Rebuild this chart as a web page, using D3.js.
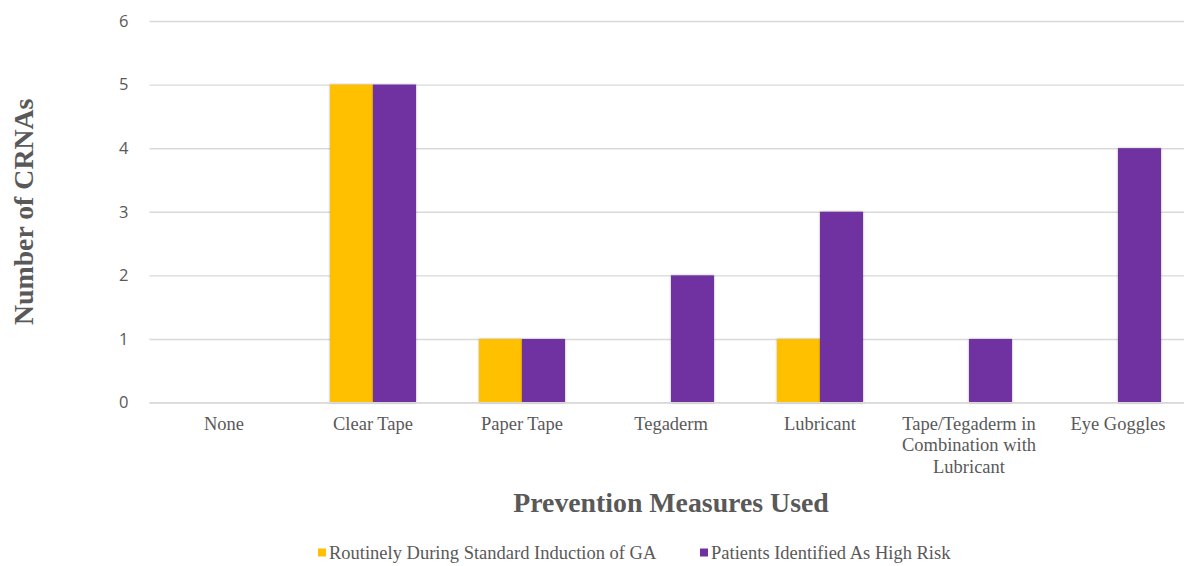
<!DOCTYPE html>
<html>
<head>
<meta charset="utf-8">
<script src="https://cdn.jsdelivr.net/npm/d3@7"></script>
<style>
  html, body { margin: 0; padding: 0; background: #fff; }
  svg { display: block; }
</style>
</head>
<body>
<svg id="chart" width="1184" height="566"></svg>
<script>
// Prevention measures and counts of CRNAs per use case
const categories = ["None", "Clear Tape", "Paper Tape", "Tegaderm", "Lubricant",
  "Tape/Tegaderm in Combination with Lubricant", "Eye Goggles"];
const seriesNames = ["Routinely During Standard Induction of GA", "Patients Identified As High Risk"];
const routineValues = [0, 5, 1, 0, 1, 0, 0];
const highRiskValues = [0, 5, 1, 2, 3, 1, 4];
const yTicks = [0, 1, 2, 3, 4, 5, 6];
const colors = ["#FFC000", "#7030A0"];
const xTitle = "Prevention Measures Used";
const yTitle = "Number of CRNAs";

const rows = categories.map((c, i) => ({ cat: c, vals: [routineValues[i], highRiskValues[i]] }));

const svg = d3.select("#chart");
const plotLeft = 149.5, plotRight = 1192.5, plotTop = 21, plotBottom = 402.6;
const textColor = "#595959";
const serif = "'Liberation Serif', 'Times New Roman', serif";

const defs = svg.append("defs");
const f = defs.append("filter").attr("id", "shadow")
  .attr("x", "-20%").attr("y", "-5%").attr("width", "140%").attr("height", "110%");
f.append("feDropShadow").attr("dx", 0).attr("dy", 0).attr("stdDeviation", 1.3)
  .attr("flood-color", "#000").attr("flood-opacity", 0.35);

const x0 = d3.scaleBand().domain(categories).range([plotLeft, plotRight])
  .paddingInner(0.4228).paddingOuter(0.2114);
const x1 = d3.scaleBand().domain([0, 1]).range([0, x0.bandwidth()]);
const y = d3.scaleLinear().domain([0, 6]).range([plotBottom, plotTop]);

// horizontal gridlines and value axis
const yAxis = d3.axisLeft(y).tickValues(yTicks).tickFormat(d3.format("d"))
  .tickSize(-(plotRight - plotLeft)).tickPadding(21);
const gy = svg.append("g").attr("transform", `translate(${plotLeft},0)`).call(yAxis);
gy.select(".domain").remove();
gy.selectAll(".tick line").attr("stroke", "#D9D9D9").attr("stroke-width", 1.4);
gy.selectAll(".tick text")
  .attr("fill", textColor)
  .style("font-family", "'Open Sans', 'Liberation Sans', sans-serif")
  .style("font-size", "16.5px");

// bars
const groups = svg.append("g").selectAll("g").data(rows).join("g")
  .attr("transform", d => `translate(${x0(d.cat)},0)`);
groups.selectAll("rect")
  .data(d => d.vals.map((v, i) => ({ v, i })).filter(e => e.v > 0))
  .join("rect")
  .attr("x", e => x1(e.i))
  .attr("width", x1.bandwidth())
  .attr("y", e => y(e.v))
  .attr("height", e => y(0) - y(e.v))
  .attr("fill", e => colors[e.i])
  .attr("filter", "url(#shadow)");

// category axis (baseline + wrapped labels)
const xAxis = d3.axisBottom(x0).tickSize(0).tickPadding(0);
const gx = svg.append("g").attr("transform", `translate(0,${plotBottom})`).call(xAxis);
gx.select(".domain").attr("stroke", "#D9D9D9").attr("stroke-width", 1.4)
  .attr("d", `M${plotLeft},0H${plotRight}`);
gx.selectAll(".tick text").remove();
gx.selectAll(".tick").append("text")
  .attr("fill", textColor)
  .attr("text-anchor", "middle")
  .style("font-family", serif)
  .style("font-size", "18.5px")
  .each(function (d) {
    const t = d3.select(this);
    const words = d.split(" ");
    const maxW = 145;
    let line = [], lines = [];
    const probe = t.append("tspan");
    words.forEach(w => {
      line.push(w);
      probe.text(line.join(" "));
      if (probe.node().getComputedTextLength() > maxW && line.length > 1) {
        line.pop();
        lines.push(line.join(" "));
        line = [w];
        probe.text(w);
      }
    });
    lines.push(line.join(" "));
    probe.remove();
    lines.forEach((l, k) => {
      t.append("tspan").attr("x", 0).attr("y", 27 + k * 21.5).text(l);
    });
  });

// axis titles
svg.append("text")
  .attr("x", (plotLeft + plotRight) / 2).attr("y", 511.5)
  .attr("text-anchor", "middle")
  .attr("fill", textColor)
  .style("font-family", serif).style("font-weight", "bold").style("font-size", "27.8px")
  .text(xTitle);

svg.append("text")
  .attr("transform", `translate(33,${(plotTop + plotBottom) / 2}) rotate(-90)`)
  .attr("text-anchor", "middle")
  .attr("fill", textColor)
  .style("font-family", serif).style("font-weight", "bold").style("font-size", "27.8px")
  .text(yTitle);

// legend
const legendX = [318, 700];
const legend = svg.append("g").selectAll("g").data(seriesNames).join("g")
  .attr("transform", (d, i) => `translate(${legendX[i]},553)`);
legend.append("rect").attr("x", 0).attr("y", -4.5).attr("width", 8).attr("height", 8)
  .attr("fill", (d, i) => colors[i]);
legend.append("text").attr("x", 11).attr("y", 6)
  .attr("fill", textColor)
  .style("font-family", serif).style("font-size", "18.5px")
  .text(d => d);
</script>
</body>
</html>
